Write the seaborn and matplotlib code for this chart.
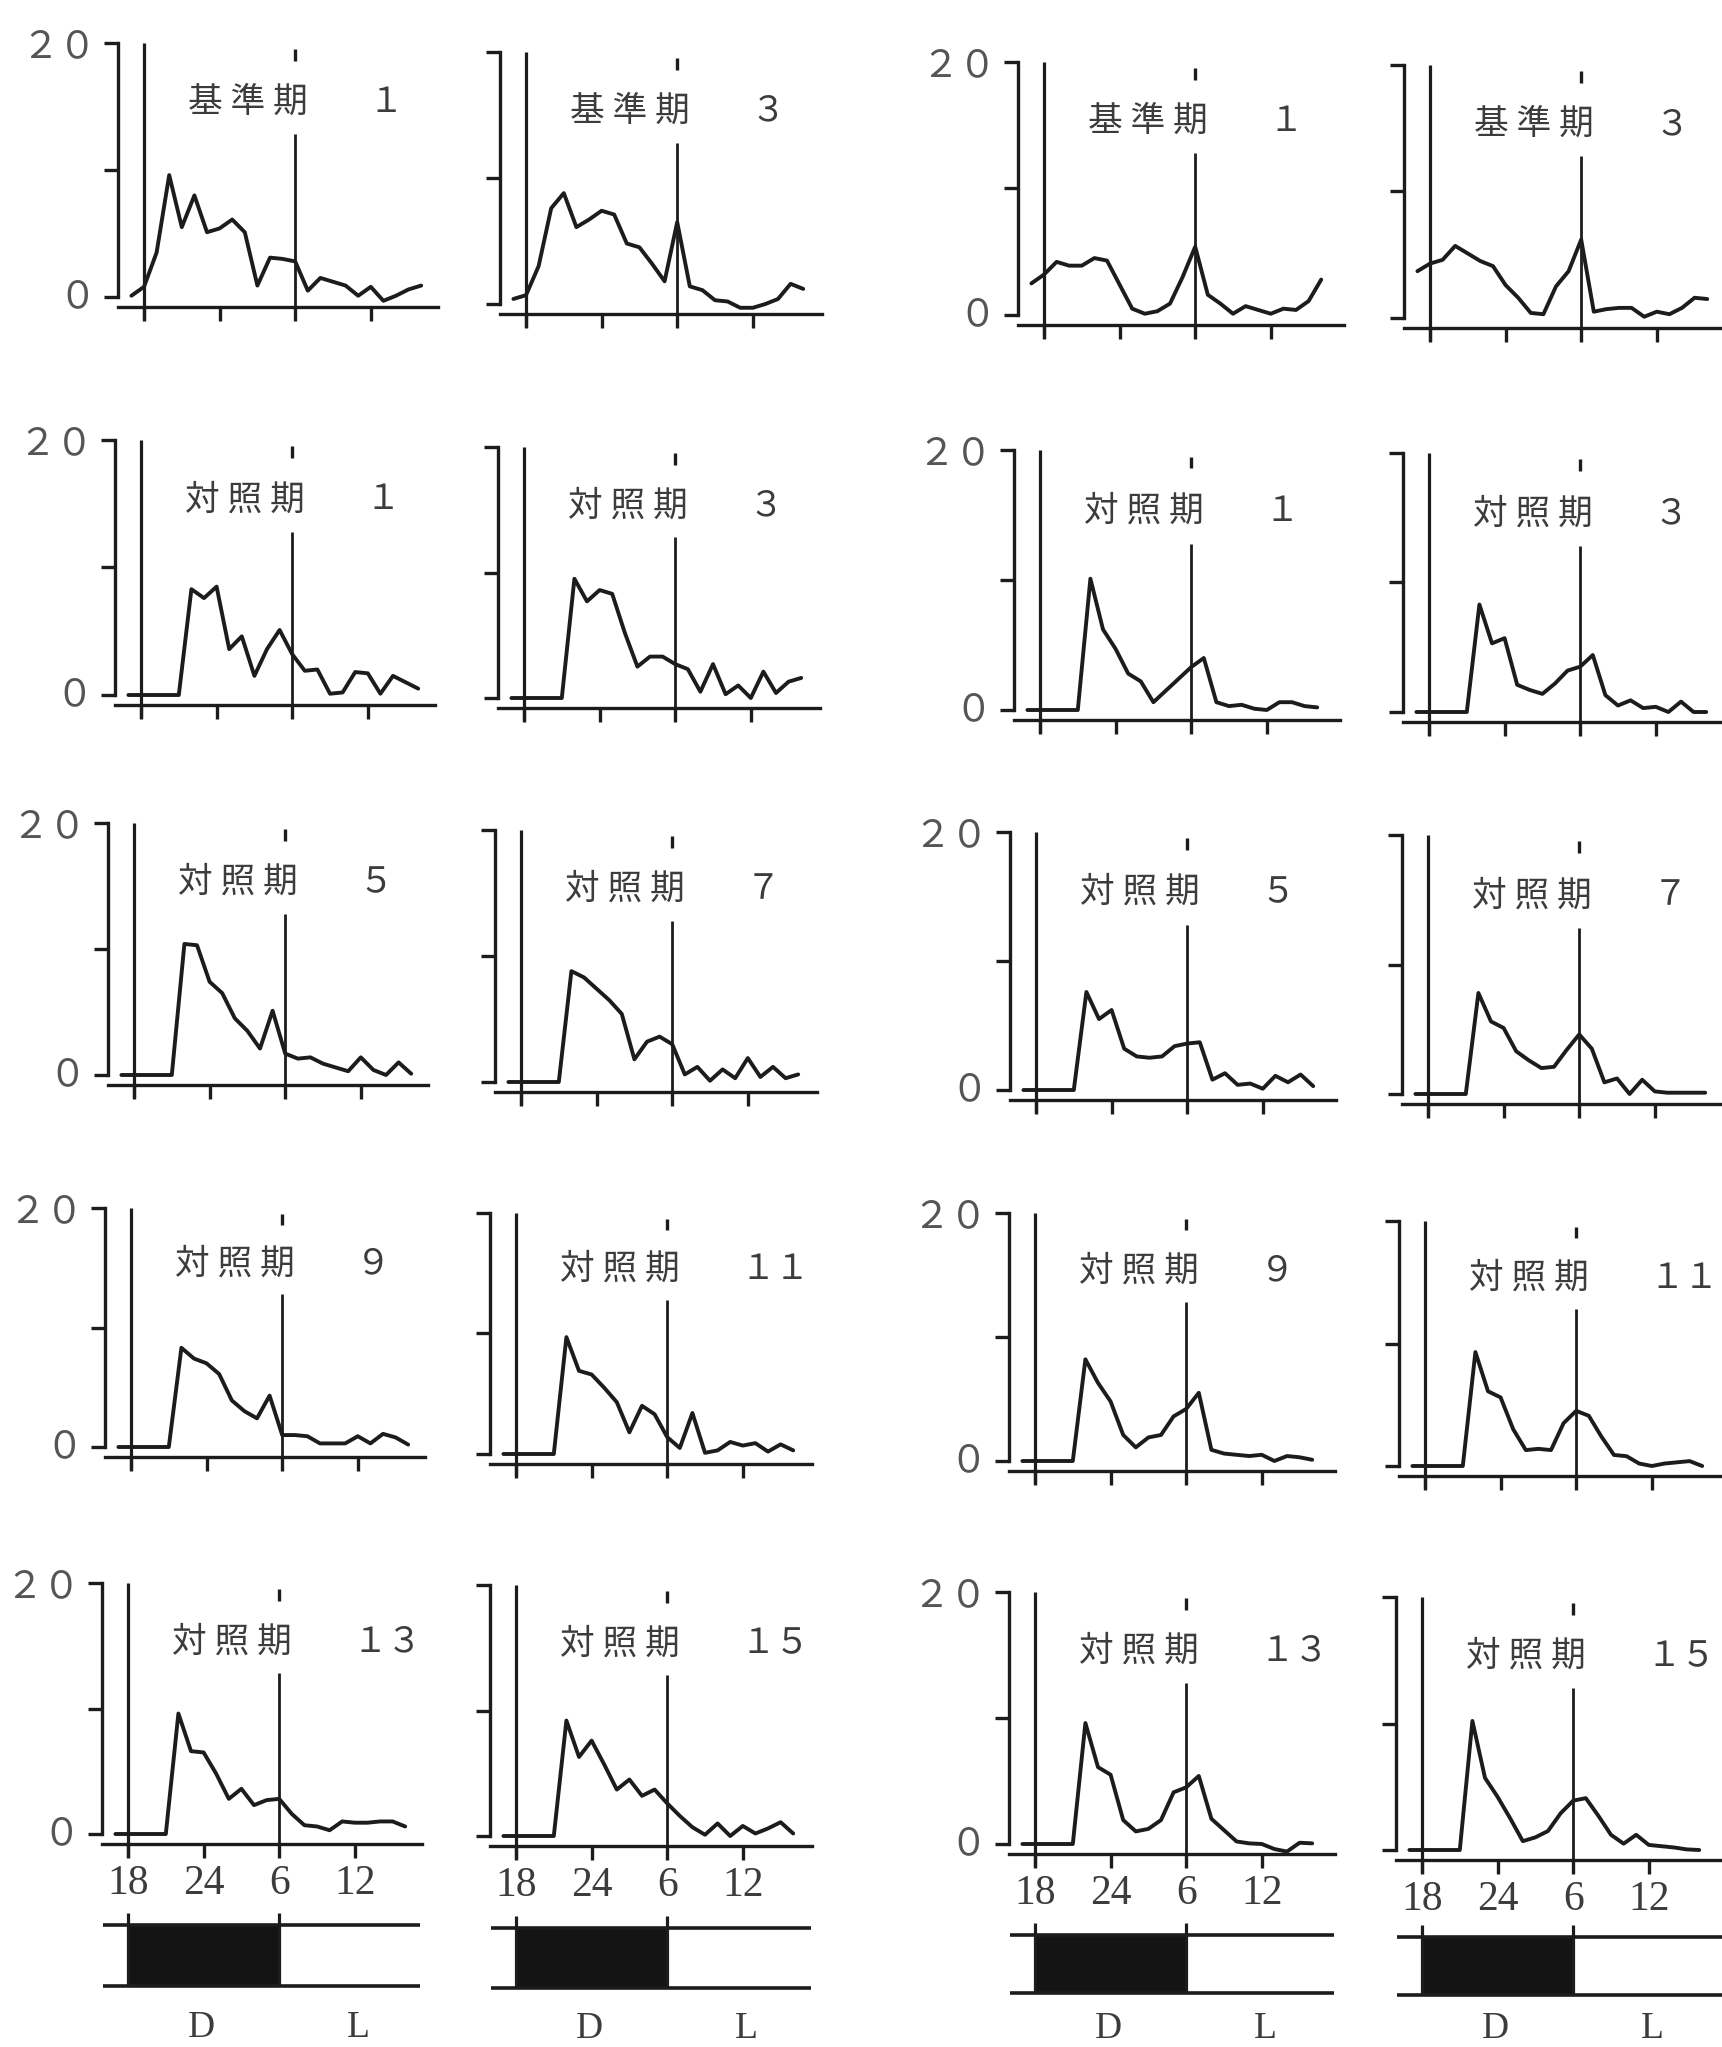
import numpy as np
import pandas as pd
import matplotlib.pyplot as plt
import seaborn as sns

# 17時〜翌16時 (1時間ごと, 24点)。x軸目盛: 18, 24, 6(=30), 12(=36)
hours = list(range(17, 41))
tick_hours = [18, 24, 30, 36]
tick_labels = ["18", "24", "6", "12"]

# 左のグループ
a_kijun_1 = [0.1, 0.8, 3.5, 9.6, 5.5, 8.0, 5.1, 5.4, 6.1, 5.1, 0.9, 3.1,
             3.0, 2.8, 0.5, 1.5, 1.2, 0.9, 0.1, 0.8, -0.3, 0.1, 0.6, 0.9]
a_kijun_3 = [0.4, 0.7, 3.0, 7.6, 8.8, 6.1, 6.7, 7.4, 7.1, 4.8, 4.5, 3.2,
             1.8, 6.5, 1.4, 1.1, 0.3, 0.2, -0.3, -0.3, 0.0, 0.4, 1.6, 1.2]
a_taisho_1 = [0, 0, 0, 0, 0, 8.3, 7.6, 8.5, 3.6, 4.6, 1.5, 3.6,
              5.1, 3.2, 1.9, 2.0, 0.1, 0.2, 1.8, 1.7, 0.1, 1.5, 1.0, 0.5]
a_taisho_3 = [0, 0, 0, 0, 0, 9.5, 7.7, 8.6, 8.3, 5.2, 2.5, 3.3,
              3.3, 2.7, 2.3, 0.5, 2.7, 0.3, 1.0, 0.0, 2.1, 0.4, 1.3, 1.6]
a_taisho_5 = [0, 0, 0, 0, 0, 10.4, 10.3, 7.4, 6.5, 4.5, 3.5, 2.1,
              5.1, 1.7, 1.3, 1.4, 0.9, 0.6, 0.3, 1.4, 0.4, 0.0, 1.0, 0.1]
a_taisho_7 = [0, 0, 0, 0, 0, 8.8, 8.3, 7.4, 6.5, 5.4, 1.8, 3.2,
              3.6, 3.0, 0.6, 1.2, 0.1, 1.0, 0.3, 1.9, 0.4, 1.2, 0.3, 0.6]
a_taisho_9 = [0, 0, 0, 0, 0, 8.3, 7.4, 7.0, 6.1, 3.9, 3.0, 2.4,
              4.3, 1.0, 1.0, 0.9, 0.3, 0.3, 0.3, 0.9, 0.3, 1.1, 0.8, 0.2]
a_taisho_11 = [0, 0, 0, 0, 0, 9.7, 6.9, 6.6, 5.5, 4.3, 1.8, 4.0,
               3.3, 1.4, 0.5, 3.4, 0.1, 0.3, 1.0, 0.7, 0.9, 0.2, 0.8, 0.3]
a_taisho_13 = [0, 0, 0, 0, 0, 9.6, 6.6, 6.5, 4.8, 2.8, 3.6, 2.3,
               2.7, 2.8, 1.6, 0.7, 0.6, 0.3, 1.0, 0.9, 0.9, 1.0, 1.0, 0.6]
a_taisho_15 = [0, 0, 0, 0, 0, 9.2, 6.3, 7.6, 5.7, 3.7, 4.5, 3.2,
               3.7, 2.6, 1.6, 0.7, 0.1, 1.0, 0.0, 0.8, 0.2, 0.6, 1.1, 0.2]

# 右のグループ
b_kijun_1 = [2.5, 3.2, 4.2, 3.9, 3.9, 4.5, 4.3, 2.4, 0.5, 0.1, 0.3, 0.9,
             3.0, 5.4, 1.6, 0.9, 0.1, 0.7, 0.4, 0.1, 0.5, 0.4, 1.1, 2.8]
b_kijun_3 = [3.7, 4.3, 4.6, 5.7, 5.1, 4.5, 4.1, 2.6, 1.6, 0.4, 0.3, 2.5,
             3.7, 6.2, 0.5, 0.7, 0.8, 0.8, 0.1, 0.5, 0.3, 0.8, 1.6, 1.5]
b_taisho_1 = [0, 0, 0, 0, 0, 10.1, 6.2, 4.7, 2.8, 2.2, 0.6, 1.5,
              2.4, 3.3, 4.0, 0.6, 0.3, 0.4, 0.1, 0.0, 0.6, 0.6, 0.3, 0.2]
b_taisho_3 = [0, 0, 0, 0, 0, 8.3, 5.3, 5.7, 2.1, 1.7, 1.4, 2.2,
              3.2, 3.5, 4.4, 1.3, 0.5, 0.9, 0.3, 0.4, 0.0, 0.8, 0.0, 0.0]
b_taisho_5 = [0, 0, 0, 0, 0, 7.6, 5.5, 6.2, 3.2, 2.6, 2.5, 2.6,
              3.4, 3.6, 3.7, 0.8, 1.3, 0.4, 0.5, 0.1, 1.1, 0.6, 1.2, 0.3]
b_taisho_7 = [0, 0, 0, 0, 0, 7.8, 5.6, 5.1, 3.3, 2.6, 2.0, 2.1,
              3.4, 4.6, 3.5, 0.9, 1.2, 0.0, 1.1, 0.2, 0.1, 0.1, 0.1, 0.1]
b_taisho_9 = [0, 0, 0, 0, 0, 8.2, 6.3, 4.8, 2.1, 1.1, 1.9, 2.1,
              3.6, 4.2, 5.5, 0.9, 0.6, 0.5, 0.4, 0.5, 0.0, 0.4, 0.3, 0.1]
b_taisho_11 = [0, 0, 0, 0, 0, 9.3, 6.1, 5.6, 3.0, 1.3, 1.4, 1.3,
               3.5, 4.5, 4.1, 2.4, 0.9, 0.8, 0.2, 0.0, 0.2, 0.3, 0.4, 0.0]
b_taisho_13 = [0, 0, 0, 0, 0, 9.6, 6.1, 5.5, 1.9, 1.0, 1.2, 1.9,
               4.1, 4.5, 5.4, 2.0, 1.1, 0.2, 0.05, 0.0, -0.4, -0.6, 0.1, 0.05]
b_taisho_15 = [0, 0, 0, 0, 0, 10.2, 5.7, 4.2, 2.5, 0.7, 1.0, 1.5,
               2.9, 3.9, 4.1, 2.7, 1.2, 0.5, 1.2, 0.4, 0.3, 0.2, 0.05, 0.0]

# パネルの並び (行ごとに 左2枚 + 右2枚)
panel_series = [
    [a_kijun_1, a_kijun_3, b_kijun_1, b_kijun_3],
    [a_taisho_1, a_taisho_3, b_taisho_1, b_taisho_3],
    [a_taisho_5, a_taisho_7, b_taisho_5, b_taisho_7],
    [a_taisho_9, a_taisho_11, b_taisho_9, b_taisho_11],
    [a_taisho_13, a_taisho_15, b_taisho_13, b_taisho_15],
]
row_names = ["基 準 期", "対 照 期", "対 照 期", "対 照 期", "対 照 期"]
panel_numbers = [
    ["１", "３", "１", "３"],
    ["１", "３", "１", "３"],
    ["５", "７", "５", "７"],
    ["９", "１１", "９", "１１"],
    ["１３", "１５", "１３", "１５"],
]

sns.set_style("white")
plt.rcParams['font.family'] = ['Noto Sans CJK JP', 'DejaVu Sans']

W, H = 1722, 2047
fig = plt.figure(figsize=(W / 100, H / 100), dpi=100)

INK = '#1c1c1c'
TXT = '#3c3c3c'
K = 12.6  # px per hour
XL, XR = 13.0, 42.5
YB, YT = -2.6, 21.0

# layout in pixels (the scan is slightly skewed)
x18_px = [[144, 526, 1044, 1430], [141, 524, 1040, 1429], [134, 521, 1036, 1428],
          [131, 516, 1035, 1425], [128, 516, 1035, 1422]]
y20_px = [[43, 52, 62, 65], [440, 447, 450, 453], [823, 830, 832, 835],
          [1208, 1213, 1213, 1221], [1583, 1585, 1592, 1597]]
y0_px = [[297, 304, 315, 318], [695, 698, 710, 712], [1075, 1082, 1090, 1094],
         [1447, 1454, 1461, 1466], [1834, 1836, 1844, 1850]]
axis_end = [41.3, 41.5, 41.8, 42.5]


def rect(x18, ylo_px, yhi_px, vlo, vhi, yb, yt):
    # ylo_px is pixel row of value vlo, yhi_px of value vhi
    m = (ylo_px - yhi_px) / (vhi - vlo)
    left = x18 - (18 - XL) * K
    right = x18 + (XR - 18) * K
    top = yhi_px - (yt - vhi) * m
    bottom = ylo_px + (vlo - yb) * m
    return [left / W, 1 - bottom / H, (right - left) / W, (bottom - top) / H]


for r in range(5):
    for c in range(4):
        ax = fig.add_axes(rect(x18_px[r][c], y0_px[r][c], y20_px[r][c], 0, 20, YB, YT))
        ax.set_facecolor('none')
        df = pd.DataFrame({'hour': hours, 'value': panel_series[r][c]})
        sns.lineplot(data=df, x='hour', y='value', ax=ax, color=INK, linewidth=2.8)
        ax.set(xlabel='', ylabel='')
        ax.set_xlim(XL, XR)
        ax.set_ylim(YB, YT)

        for s in ['top', 'right']:
            ax.spines[s].set_visible(False)
        ax.spines['left'].set_position(('data', 15.9))
        ax.spines['left'].set_bounds(0, 20)
        ax.spines['bottom'].set_position(('data', -0.8))
        ax.spines['bottom'].set_bounds(15.9, axis_end[c])
        for s in ['left', 'bottom']:
            ax.spines[s].set_color(INK)
            ax.spines[s].set_linewidth(2.4)

        ax.set_yticks([0, 10, 20])
        ax.set_yticklabels([])
        ax.set_xticks(tick_hours)
        ax.tick_params(axis='both', left=True, bottom=True, direction='out',
                       length=10, width=2.4, color=INK)
        if r == 4:
            ax.set_xticklabels(tick_labels, fontsize=30, family='Liberation Serif', color=TXT)
            ax.tick_params(axis='x', pad=5)
        else:
            ax.set_xticklabels([])

        # 18時と6時の縦線
        ax.vlines(18, -1.8, 20, color=INK, linewidth=2.3, clip_on=False)
        ax.vlines(30, -1.8, 12.8, color=INK, linewidth=2.0, clip_on=False)
        ax.vlines(30, 18.6, 19.5, color=INK, linewidth=2.4, clip_on=False)

        ax.text(21.5, 15.3, row_names[r], fontsize=25, ha='left', va='center', color=TXT)
        ax.text(35.8, 15.3, panel_numbers[r][c], fontsize=25, ha='left', va='center', color=TXT)

        if c in (0, 2):
            ax.text(14.2, 19.7, "２０", fontsize=27, ha='right', va='center', color='#555555')
            ax.text(14.2, 0, "０", fontsize=27, ha='right', va='center', color='#555555')

# 明暗 (D/L) の帯
bar_top_px = [1925, 1928, 1935, 1937]
bar_bot_px = [1986, 1988, 1993, 1995]
dl_y = [-0.68, -0.68, -0.62, -0.58]
for c in range(4):
    bx = fig.add_axes(rect(x18_px[4][c], bar_bot_px[c], bar_top_px[c], 0, 1, -1.2, 1.4))
    bx.set_xlim(XL, XR)
    bx.set_ylim(-1.2, 1.4)
    bx.axis('off')
    bx.fill_between([18, 30], 0, 1, color='#141414', linewidth=0)
    bx.hlines([0, 1], 16.0, axis_end[c] - 0.1, color=INK, linewidth=2.6, clip_on=False)
    bx.vlines([18, 30], 0, 1.2, color=INK, linewidth=2.3, clip_on=False)
    bx.text(23.8, dl_y[c], "D", fontsize=27, family='Liberation Serif', ha='center', va='center', color=TXT)
    bx.text(36.3, dl_y[c], "L", fontsize=27, family='Liberation Serif', ha='center', va='center', color=TXT)

fig.savefig('out.png', dpi=100, facecolor='white')
